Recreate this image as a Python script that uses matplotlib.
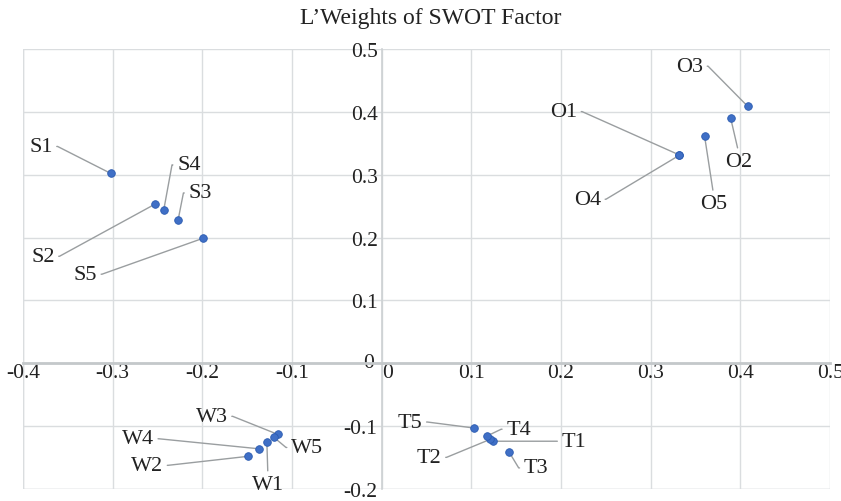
import matplotlib
matplotlib.use("Agg")
import matplotlib.pyplot as plt
import matplotlib.transforms as mtrans

# SWOT factor weights (x, y)
names = ["S1", "S2", "S3", "S4", "S5",
         "W1", "W2", "W3", "W4", "W5",
         "O1", "O2", "O3", "O4", "O5",
         "T1", "T2", "T3", "T4", "T5"]
x_vals = [-0.302, -0.253, -0.227, -0.243, -0.199,
          -0.128, -0.149, -0.116, -0.137, -0.120,
          0.331, 0.389, 0.408, 0.332, 0.360,
          0.124, 0.121, 0.142, 0.117, 0.103]
y_vals = [0.302, 0.253, 0.228, 0.244, 0.199,
          -0.126, -0.148, -0.113, -0.136, -0.118,
          0.332, 0.391, 0.409, 0.331, 0.362,
          -0.124, -0.121, -0.141, -0.116, -0.103]
x_ticks = [-0.4, -0.3, -0.2, -0.1, 0, 0.1, 0.2, 0.3, 0.4, 0.5]
y_ticks = [-0.2, -0.1, 0, 0.1, 0.2, 0.3, 0.4, 0.5]

# label placement: offset of text centre from the point (pixels), side the leader leaves from
label_pos = {
    "S1": (-70, 27, "r"), "S2": (-112, -52, "r"), "S3": (22, 27, "l"),
    "S4": (25, 45, "l"), "S5": (-118, -36, "r"),
    "W1": (1, -42, "t"), "W2": (-101, -9, "r"), "W3": (-66, 18, "r"),
    "W4": (-121, 10, "r"), "W5": (33, -10, "l"),
    "O1": (-115, 43, "r"), "O2": (8, -44, "t"), "O3": (-58, 40, "r"),
    "O4": (-92, -44, "r"), "O5": (9, -68, "t"),
    "T1": (81, 0, "l"), "T2": (-61, -18, "r"), "T3": (27, -16, "l"),
    "T4": (32, 7, "l"), "T5": (-64, 6, "r"),
}

plt.rcParams['font.family'] = ['Liberation Serif', 'DejaVu Serif']

fig = plt.figure(figsize=(8.41, 5.02), dpi=100)
ax = fig.add_axes([0.0273, 0.0239, 0.9597, 0.8765])

ax.set_xlim(-0.4, 0.5)
ax.set_ylim(-0.2, 0.5)
ax.set_xticks(x_ticks)
ax.set_yticks(y_ticks)
ax.set_xticklabels([f"{t:g}" for t in x_ticks])
ax.set_yticklabels([f"{t:g}" for t in y_ticks])
ax.grid(True, color="#dadddf", linewidth=1.0, zorder=0)

# axes cross at the origin
ax.spines["top"].set_visible(False)
ax.spines["right"].set_visible(False)
ax.spines["bottom"].set_position("zero")
ax.spines["left"].set_position("zero")
ax.spines["bottom"].set_color("#c4c8ca")
ax.spines["bottom"].set_linewidth(2.0)
ax.spines["left"].set_color("#cdd1d3")
ax.spines["left"].set_linewidth(1.2)
# outer frame drawn as grid lines
ax.axhline(-0.2, color="#dadddf", linewidth=1.0, zorder=0)
ax.axvline(-0.4, color="#dadddf", linewidth=1.0, zorder=0)

ax.tick_params(length=0, labelsize=15.5, colors="#222222")
ax.tick_params(axis="x", pad=0)
ax.tick_params(axis="y", pad=3)
for lab in ax.get_xticklabels():
    if lab.get_text() == "0":
        lab.set_transform(lab.get_transform()
                          + mtrans.ScaledTranslation(6 / 100, 0, fig.dpi_scale_trans))
for lab in ax.get_yticklabels():
    if lab.get_text() == "0":
        lab.set_transform(lab.get_transform()
                          + mtrans.ScaledTranslation(-4 / 100, 3 / 100, fig.dpi_scale_trans))

ax.scatter(x_vals, y_vals, s=30, color="#3f6fc6", edgecolors="#2b5bb0",
           linewidths=0.6, zorder=4, clip_on=False)

relpos_map = {"r": (1, 0.5), "l": (0, 0.5), "t": (0.5, 1)}
for name, xv, yv in zip(names, x_vals, y_vals):
    dx, dy, side = label_pos[name]
    if side == "t":
        cstyle = "arc3,rad=0"
    else:
        ang = 0 if side == "r" else 180
        cstyle = f"arc,angleA={ang},angleB=0,armA=5,armB=0,rad=0"
    ax.annotate(name, xy=(xv, yv), xytext=(dx, dy), textcoords="offset pixels",
                ha="center", va="center", fontsize=16, color="#222222",
                arrowprops=dict(arrowstyle="-", color="#9a9ea0", linewidth=1.0,
                                connectionstyle=cstyle, relpos=relpos_map[side],
                                shrinkA=1, shrinkB=0),
                zorder=3)

fig.text(0.512, 0.963, "L\u2019Weights of SWOT Factor", ha="center", va="center",
         fontsize=17, color="#222222")

fig.savefig("out.png", dpi=100)
